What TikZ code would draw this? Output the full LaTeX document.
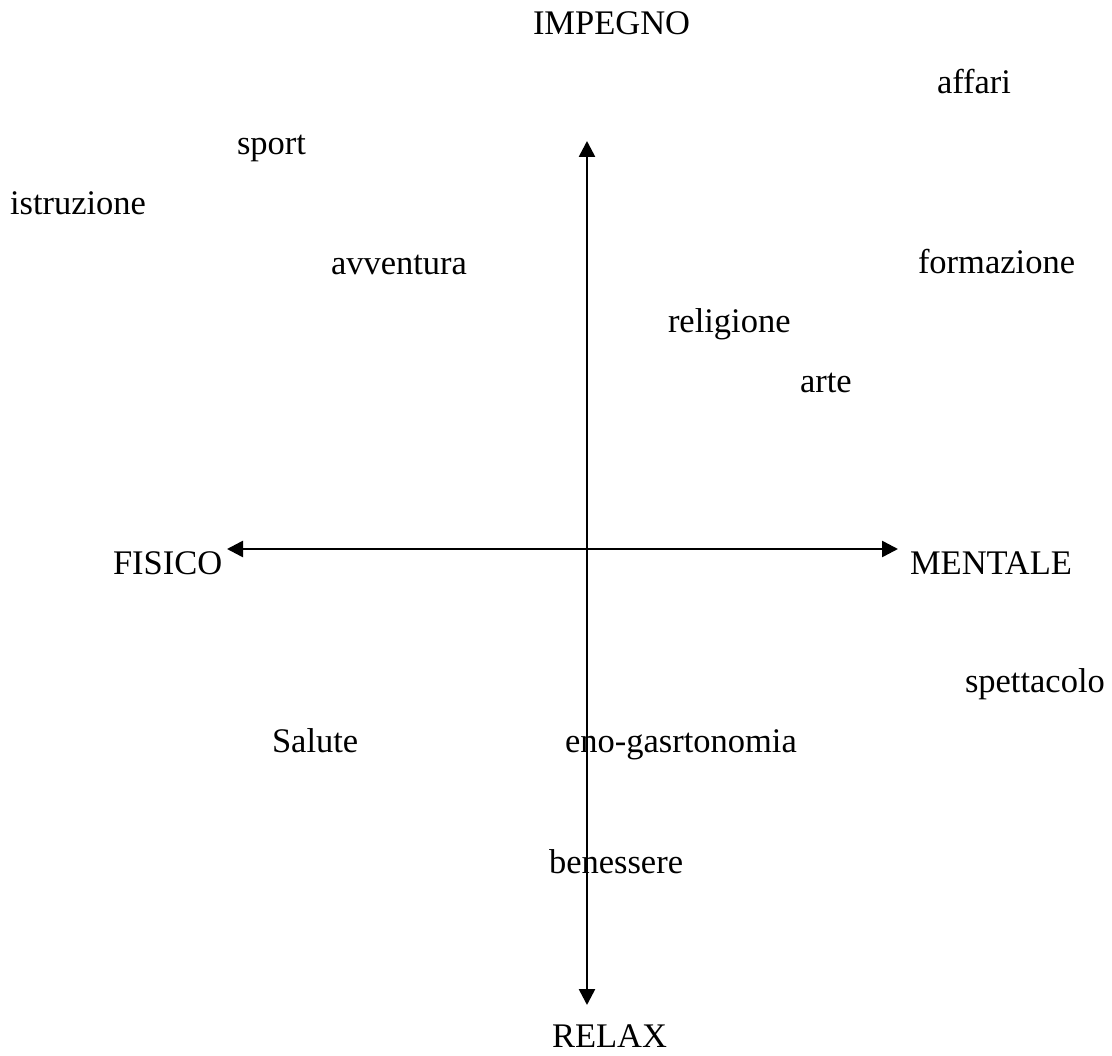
\documentclass[tikz,border=0pt]{standalone}
\usepackage{fontspec}
\setmainfont{Liberation Serif}
\usetikzlibrary{arrows.meta}
\begin{document}
\begin{tikzpicture}[x=1pt,y=-1pt,
  lbl/.style={anchor=base west,inner sep=0pt,outer sep=0pt,font=\fontsize{34.5}{41}\selectfont},
  axis/.style={line width=2.6pt,{Triangle[length=16pt,width=16pt]}-{Triangle[length=16pt,width=16pt]}}]
\useasboundingbox (0,0) rectangle (1112,1056);
\coordinate (top) at (587,141);
\coordinate (bot) at (587,1005);
\coordinate (lft) at (227,549);
\coordinate (rgt) at (898,549);
\draw[axis] (top) -- (bot);
\draw[axis] (lft) -- (rgt);
\node[lbl] (impegno) at (533,35) {IMPEGNO};
\node[lbl] (affari) at (937,94) {affari};
\node[lbl] (sport) at (237,155) {sport};
\node[lbl] (istruzione) at (10,215) {istruzione};
\node[lbl] (avventura) at (331,275) {avventura};
\node[lbl] (formazione) at (918,274) {formazione};
\node[lbl] (religione) at (668,333) {religione};
\node[lbl] (arte) at (800,393) {arte};
\node[lbl] (fisico) at (113,574) {FISICO};
\node[lbl] (mentale) at (910,574) {MENTALE};
\node[lbl] (spettacolo) at (965,692) {spettacolo};
\node[lbl] (salute) at (272,752) {Salute};
\node[lbl] (eno) at (565,752) {eno-gasrtonomia};
\node[lbl] (benessere) at (549,873) {benessere};
\node[lbl] (relax) at (552,1047) {RELAX};
\end{tikzpicture}
\end{document}
